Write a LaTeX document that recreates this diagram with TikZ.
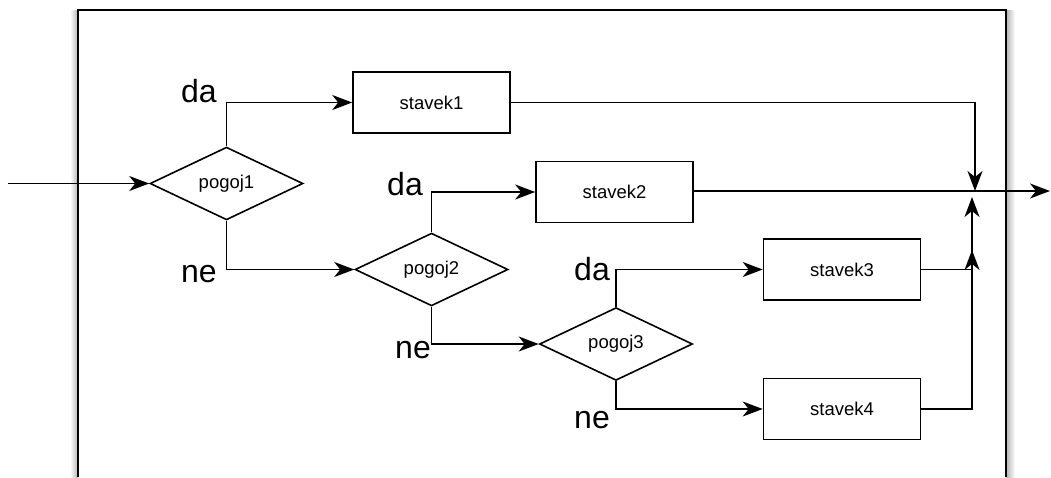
\documentclass[tikz,border=0pt]{standalone}
\usepackage{fontspec}
\setmainfont{Liberation Sans}
\usetikzlibrary{arrows.meta,shapes.geometric}
\begin{document}
\begin{tikzpicture}[x=1pt,y=-1pt,
  line width=1.6pt,
  arr/.style={-{Stealth[length=20pt,width=15pt,inset=6pt]}},
  cond/.style={draw,diamond,minimum width=153pt,minimum height=59pt,inner sep=0pt,font=\fontsize{18.5}{20}\selectfont},
  stmt/.style={draw,rectangle,minimum width=157pt,minimum height=61pt,inner sep=0pt,font=\fontsize{18.5}{20}\selectfont},
  lbl/.style={anchor=base,inner sep=0pt,font=\fontsize{32}{34}\selectfont}]
\useasboundingbox (0,0) rectangle (1051,477);
% frame with soft shadow
\shade[left color=white,right color=black!30] (70,10) rectangle (78,477);
\shade[left color=black!30,right color=white] (1006,10) rectangle (1015,477);
\draw[line width=1.8pt] (78,477) -- (78,10) -- (1006,10) -- (1006,477);
% nodes
\node[cond] (p1) at (226.5,183.5) {pogoj1};
\node[cond] (p2) at (431.5,269.5) {pogoj2};
\node[cond] (p3) at (616,344) {pogoj3};
\node[stmt] (s1) at (431.5,102.5) {stavek1};
\node[stmt] (s2) at (614.5,192) {stavek2};
\node[stmt] (s3) at (842,269.5) {stavek3};
\node[stmt] (s4) at (842,409) {stavek4};
% labels
\node[lbl] (da1) at (199,102) {da};
\node[lbl] (ne1) at (199,282) {ne};
\node[lbl] (da2) at (405,195) {da};
\node[lbl] (ne2) at (413,358) {ne};
\node[lbl] (da3) at (592,280) {da};
\node[lbl] (ne3) at (592,428) {ne};
% free ends
\coordinate (in) at (8,183.5);
\coordinate (out) at (1050,191);
\coordinate (j1) at (975,191);
\coordinate (j3) at (972,250);
\coordinate (j4) at (972,197);
% connectors
\draw[arr] (in) -- (p1.west);
\draw[arr] (p1.north) |- (s1.west);
\draw[arr] (p1.south) |- (p2.west);
\draw[arr] (p2.north) |- (s2.west);
\draw[arr] (p2.south) |- (p3.west);
\draw[arr] (p3.north) |- (s3.west);
\draw[arr] (p3.south) |- (s4.west);
\draw[arr] (s1.east) -| (j1);
\draw[arr] (s2.east |- out) -- (out);
\draw[arr] (s3.east) -| (j3);
\draw[arr] (s4.east) -| (j4);
\end{tikzpicture}
\end{document}
